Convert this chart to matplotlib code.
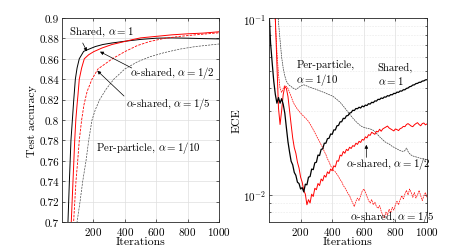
import numpy as np
import matplotlib
matplotlib.use('Agg')
import matplotlib.pyplot as plt
from matplotlib.ticker import FormatStrFormatter, LogLocator, NullFormatter

plt.rcParams['font.family'] = 'serif'
plt.rcParams['font.serif'] = ['cmr10']
plt.rcParams['mathtext.fontset'] = 'cm'
plt.rcParams['axes.formatter.use_mathtext'] = True
plt.rcParams['axes.unicode_minus'] = False

# ---- left panel: test accuracy ----
it_shared = [30, 38, 47, 57, 66, 74, 79, 85, 96, 110, 138, 180, 212, 260, 318, 400, 500, 600, 700, 800, 900, 1000]
acc_shared = [0.66, 0.70, 0.74, 0.78, 0.80, 0.818, 0.828, 0.84, 0.851, 0.86, 0.8673, 0.870, 0.872, 0.874,
              0.8755, 0.8772, 0.879, 0.8802, 0.8805, 0.8802, 0.8798, 0.8795]

it_half = [45, 59, 70, 81, 88, 96, 102, 110, 125, 142, 170, 202, 255, 318, 400, 446, 500, 600, 700, 800, 900, 1000]
acc_half = [0.66, 0.70, 0.74, 0.78, 0.80, 0.815, 0.825, 0.84, 0.851, 0.86, 0.864, 0.867, 0.8706, 0.874,
            0.877, 0.8787, 0.8805, 0.882, 0.8835, 0.8845, 0.8852, 0.8865]

it_fifth = [60, 74, 89, 100, 110, 125, 140, 160, 191, 229, 320, 400, 480, 560, 650, 750, 850, 1000]
acc_fifth = [0.66, 0.70, 0.74, 0.76, 0.78, 0.80, 0.815, 0.828, 0.84, 0.85, 0.86, 0.867, 0.873, 0.877,
             0.880, 0.882, 0.8835, 0.8855]

it_pp = [80, 96, 115, 132, 153, 170, 191, 212, 240, 280, 330, 400, 480, 560, 650, 750, 850, 1000]
acc_pp = [0.66, 0.70, 0.72, 0.74, 0.76, 0.78, 0.80, 0.81, 0.82, 0.83, 0.84, 0.85, 0.857, 0.862, 0.866,
          0.8695, 0.872, 0.8745]

# ---- right panel: ECE in units of 1e-3, every 10 iterations ----
it_ece = np.arange(0, 1001, 10)
ece_shared = [110, 72, 56, 44, 37, 33, 35.5, 33, 35, 32.5, 29, 24, 20, 17.5, 15.5, 14.8, 13.4, 12.9, 11.8, 11.6,
              10.8, 11.0, 10.4, 11.5, 11.4, 12.6, 12.7, 14.0, 13.9, 15.2, 15.3, 16.8, 16.7, 18.1, 18.2, 19.6,
              19.6, 20.8, 20.9, 22.1, 22.0, 23.3, 23.3, 24.6, 24.7, 25.9, 25.9, 27.1, 27.0, 28.0, 28.1, 29.0,
              29.2, 30.1, 30.0, 30.8, 30.7, 31.3, 31.0, 31.8, 31.5, 32.2, 32.0, 32.8, 32.6, 33.4, 33.2, 34.0,
              33.9, 34.7, 34.6, 35.3, 35.1, 35.8, 35.7, 36.4, 36.2, 36.9, 36.8, 37.5, 37.4, 38.1, 38.0, 38.7,
              38.6, 39.3, 39.3, 40.0, 40.2, 40.9, 41.1, 41.8, 41.9, 42.6, 42.7, 43.3, 43.3, 44.0, 44.1, 44.7, 44.8]
ece_half = [95, 130, 150, 140, 100, 55, 31, 25, 30, 37, 41, 40, 36, 30, 25, 21, 18.5, 17.2, 15.3, 14.2,
            12.6, 11.8, 10.6, 10.1, 8.8, 9.4, 9.0, 10.1, 9.8, 10.9, 10.7, 11.6, 11.3, 12.3, 12.0, 12.9,
            12.6, 13.5, 13.2, 14.0, 13.7, 14.6, 14.4, 15.6, 15.5, 16.8, 16.6, 17.6, 17.2, 18.1, 17.8, 18.6,
            18.3, 19.0, 18.8, 19.6, 19.3, 20.1, 19.8, 20.6, 20.4, 21.3, 21.0, 21.9, 21.7, 22.6, 22.3, 22.0,
            22.9, 22.7, 23.5, 22.9, 23.6, 23.9, 24.2, 24.5, 23.9, 23.6, 23.3, 23.0, 23.6, 23.4, 23.1, 23.7,
            23.9, 24.4, 24.3, 25.0, 25.3, 24.9, 24.5, 24.3, 24.9, 25.3, 25.6, 25.0, 24.6, 25.3, 25.5, 24.9, 25.2]
ece_fifth = [150, 150, 150, 130, 95, 65, 48, 40, 38, 40, 41.5, 41, 40, 38, 36, 34, 32.5, 31.5, 30.5, 29.8,
             29.0, 28.4, 27.8, 27.2, 26.7, 26.0, 25.2, 24.3, 23.4, 22.5, 21.6, 20.8, 20.0, 19.2, 18.5, 17.6,
             16.9, 16.0, 15.4, 14.6, 14.2, 13.7, 13.5, 13.1, 12.7, 12.2, 11.9, 11.3, 11.0, 10.6, 10.2, 9.9,
             9.4, 9.0, 8.6, 9.2, 9.6, 9.3, 9.9, 10.5, 10.8, 10.4, 9.8, 9.3, 9.0, 9.4, 8.8, 9.1, 8.6, 8.4,
             8.7, 8.1, 7.7, 7.4, 8.0, 7.7, 8.3, 7.9, 8.5, 8.2, 8.8, 9.2, 8.8, 9.4, 9.9, 9.5, 10.1, 10.6,
             10.0, 10.8, 10.3, 9.7, 10.3, 9.6, 10.0, 10.6, 9.9, 9.3, 9.9, 10.3, 9.7]
ece_pp = [150, 150, 150, 150, 150, 125, 95, 75, 60, 52, 47, 44, 42.5, 41.5, 41, 40.3, 39.8, 39.5, 40, 40.6,
          41.2, 41.6, 41.9, 41.6, 41.3, 40.8, 40.6, 40.3, 40.0, 39.8, 39.4, 39.1, 38.8, 38.5, 38.2, 37.9,
          37.5, 37.2, 36.9, 36.6, 36.3, 35.8, 35.2, 34.6, 34.0, 33.4, 32.6, 31.8, 31.0, 30.2, 29.4, 28.6,
          27.9, 27.2, 26.6, 26.0, 25.5, 25.0, 24.6, 24.3, 24.1, 24.0, 23.8, 23.7, 23.6, 23.4, 23.2, 22.8,
          22.3, 21.8, 21.3, 20.9, 20.5, 20.1, 19.8, 19.6, 19.4, 19.1, 18.8, 18.6, 18.4, 18.2, 18.0, 17.8,
          17.7, 17.6, 17.8, 18.4, 17.6, 17.1, 16.8, 16.6, 16.5, 16.4, 16.3, 16.2, 16.1, 16.0, 16.0, 15.9, 15.8]

xticks = [200, 400, 600, 800, 1000]
acc_ticks = [0.7, 0.72, 0.74, 0.76, 0.78, 0.8, 0.82, 0.84, 0.86, 0.88, 0.9]

RED = (1, 0, 0)
AX = (0.15, 0.15, 0.15)
GRID = (0.87, 0.87, 0.87)
fs_tick = 8
fs_lab = 8.5
fs_txt = 7.8
arrow = dict(arrowstyle='-|>', color='k', lw=0.5, mutation_scale=5, shrinkA=0, shrinkB=0)


def style_axes(ax):
    for s in ax.spines.values():
        s.set_color(AX)
        s.set_linewidth(0.6)
    ax.tick_params(which='both', direction='in', top=True, right=True, colors=AX,
                   labelcolor='k', labelsize=fs_tick, pad=2, width=0.5)
    ax.tick_params(which='major', length=2.5)
    ax.tick_params(which='minor', length=1.5)
    ax.set_axisbelow(True)


fig = plt.figure(figsize=(4.74, 2.51), dpi=100)

# left panel
ax1 = fig.add_axes([62 / 474, 28 / 251, 157 / 474, 204 / 251])
ax1.plot(it_shared, acc_shared, color='k', lw=0.7)
ax1.plot(it_half, acc_half, color=RED, lw=0.7)
ax1.plot(it_fifth, acc_fifth, color=RED, lw=0.6, ls=(0, (3, 1.5)))
ax1.plot(it_pp, acc_pp, color=(0.3, 0.3, 0.3), lw=0.5, ls=(0, (3, 1.5)))
ax1.set_xlim(0, 1000)
ax1.set_ylim(0.7, 0.9)
ax1.set_xticks(xticks)
ax1.set_yticks(acc_ticks)
ax1.yaxis.set_major_formatter(FormatStrFormatter('%g'))
ax1.grid(True, color=GRID, lw=0.5)
style_axes(ax1)
ax1.set_xlabel('Iterations', fontsize=fs_lab, labelpad=0)
ax1.set_ylabel('Test accuracy', fontsize=fs_lab, labelpad=2)

ax1.text(45, 0.8873, 'Shared, $\\alpha=1$', fontsize=fs_txt, va='center', ha='left')
ax1.annotate('', xy=(159, 0.8673), xytext=(132, 0.8755), arrowprops=arrow)
ax1.text(433, 0.8468, '$\\alpha$-shared, $\\alpha=1/2$', fontsize=fs_txt, va='center', ha='left')
ax1.annotate('', xy=(242, 0.867), xytext=(444, 0.851), arrowprops=arrow)
ax1.text(408, 0.8167, '$\\alpha$-shared, $\\alpha=1/5$', fontsize=fs_txt, va='center', ha='left')
ax1.annotate('', xy=(225, 0.8483), xytext=(395, 0.8235), arrowprops=arrow)
ax1.text(217, 0.7738, 'Per-particle, $\\alpha=1/10$', fontsize=fs_txt, va='center', ha='left')

# right panel
ax2 = fig.add_axes([269 / 474, 28 / 251, 158 / 474, 204 / 251])
ax2.plot(it_ece, np.array(ece_pp) / 1000, color=(0.25, 0.25, 0.25), lw=0.5, ls=(0, (2.5, 1)))
ax2.plot(it_ece, np.array(ece_fifth) / 1000, color=RED, lw=0.5, ls=(0, (2.5, 1)))
ax2.plot(it_ece, np.array(ece_half) / 1000, color=RED, lw=0.7)
ax2.plot(it_ece, np.array(ece_shared) / 1000, color='k', lw=0.9)
ax2.set_yscale('log')
ax2.set_xlim(0, 1000)
ax2.set_ylim(0.00703, 0.1)
ax2.set_xticks(xticks)
ax2.yaxis.set_major_locator(LogLocator(base=10, numticks=5))
ax2.yaxis.set_minor_locator(LogLocator(base=10, subs=np.arange(2, 10), numticks=10))
ax2.yaxis.set_minor_formatter(NullFormatter())
ax2.grid(True, which='major', color=GRID, lw=0.5)
ax2.grid(True, which='minor', color=(0.9, 0.9, 0.9), lw=0.4, ls=(0, (3, 2)))
style_axes(ax2)
ax2.set_xlabel('Iterations', fontsize=fs_lab, labelpad=0)
ax2.set_ylabel('ECE', fontsize=fs_lab, labelpad=1)

ax2.text(173, 0.0489, 'Per-particle,\n$\\alpha=1/10$', fontsize=fs_txt, va='center', ha='left',
         linespacing=1.2)
ax2.text(688, 0.048, 'Shared,\n$\\alpha=1$', fontsize=fs_txt, va='center', ha='left', linespacing=1.2)
ax2.text(489, 0.0151, '$\\alpha$-shared, $\\alpha=1/2$', fontsize=fs_txt, va='center', ha='left')
ax2.annotate('', xy=(616, 0.0192), xytext=(616, 0.0163), arrowprops=arrow)
ax2.text(515, 0.0076, '$\\alpha$-shared, $\\alpha=1/5$', fontsize=fs_txt, va='center', ha='left')

fig.savefig('out.png', dpi=100)
